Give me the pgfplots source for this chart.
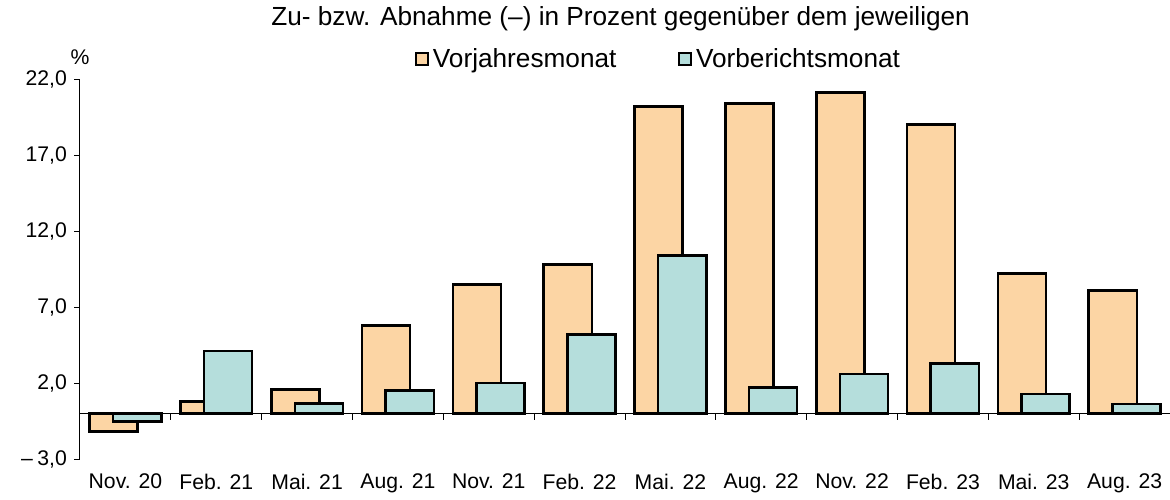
\documentclass[border=0pt]{standalone}
\usepackage{pgfplots}
\pgfplotsset{compat=1.18}
\usepackage{fontspec}
\setmainfont{Liberation Sans}
\definecolor{orangebar}{RGB}{252,213,164}
\definecolor{tealbar}{RGB}{181,222,220}
\pgfplotsset{
  mybar/.style={ybar, bar width=0.53, draw=black, line width=1.3pt,
    legend image code/.code={\draw[##1,/tikz/.cd,line width=0.8pt] (0pt,-3pt) rectangle (6pt,3pt);}},
}
\begin{document}
\begin{tikzpicture}
\begin{axis}[
  scale only axis, width=545pt, height=190pt,
  xmin=-0.5, xmax=11.5, ymin=-3, ymax=22,
  clip=false,
  axis x line*=bottom, axis y line*=left,
  x axis line style={draw=none},
  y axis line style={line width=0.5pt},
  xtick={0,...,11},
  xticklabels={Nov. 20, Feb. 21, Mai. 21, Aug. 21, Nov. 21, Feb. 22, Mai. 22, Aug. 22, Nov. 22, Feb. 23, Mai. 23, Aug. 23},
  xtick style={draw=none},
  xticklabel style={yshift=-1pt},
  ytick={-3,2,7,12,17,22},
  yticklabels={{–\hspace{0.22em}3,0},{2,0},{7,0},{12,0},{17,0},{22,0}},
  tick align=outside, major tick length=3pt,
  ytick style={black, line width=0.5pt},
  tick label style={font=\fontsize{10.6}{12}\selectfont},
  legend style={at={(rel axis cs:0.3073,1.052)}, anchor=west, draw=none, fill=none,
    legend columns=2, font=\fontsize{13.1}{15}\selectfont, inner sep=0pt,
    /tikz/every even column/.append style={column sep=29pt}},
]
\addplot[black, line width=0.5pt, forget plot] coordinates {(-0.5,0) (11.5,0)};
\addplot[ycomb, black, line width=0.5pt, forget plot, mark=none] coordinates {
(0.5,-0.45) (1.5,-0.45) (2.5,-0.45) (3.5,-0.45) (4.5,-0.45) (5.5,-0.45)
(6.5,-0.45) (7.5,-0.45) (8.5,-0.45) (9.5,-0.45) (10.5,-0.45)};
\addplot[mybar, fill=orangebar, bar shift=-0.13] coordinates {
(0,-1.2) (1,0.77) (2,1.59) (3,5.8) (4,8.5) (5,9.8) (6,20.2) (7,20.4) (8,21.1) (9,19.0) (10,9.2) (11,8.1)};
\addlegendentry{Vorjahresmonat}
\addplot[mybar, fill=tealbar, bar shift=0.13] coordinates {
(0,-0.52) (1,4.1) (2,0.66) (3,1.5) (4,2.0) (5,5.2) (6,10.4) (7,1.7) (8,2.6) (9,3.3) (10,1.28) (11,0.62)};
\addlegendentry{Vorberichtsmonat}
\node[font=\fontsize{13.1}{15}\selectfont] at (rel axis cs:0.496,1) [yshift=30pt] {Zu- bzw. Abnahme (–) in Prozent gegenüber dem jeweiligen};
\node[font=\fontsize{10.6}{12}\selectfont] at (rel axis cs:0,1) [yshift=11pt] {\%};
\end{axis}
\pgfresetboundingbox
\path[use as bounding box] (-40pt,-20pt) rectangle (545pt,229.5pt);
\end{tikzpicture}
\end{document}
